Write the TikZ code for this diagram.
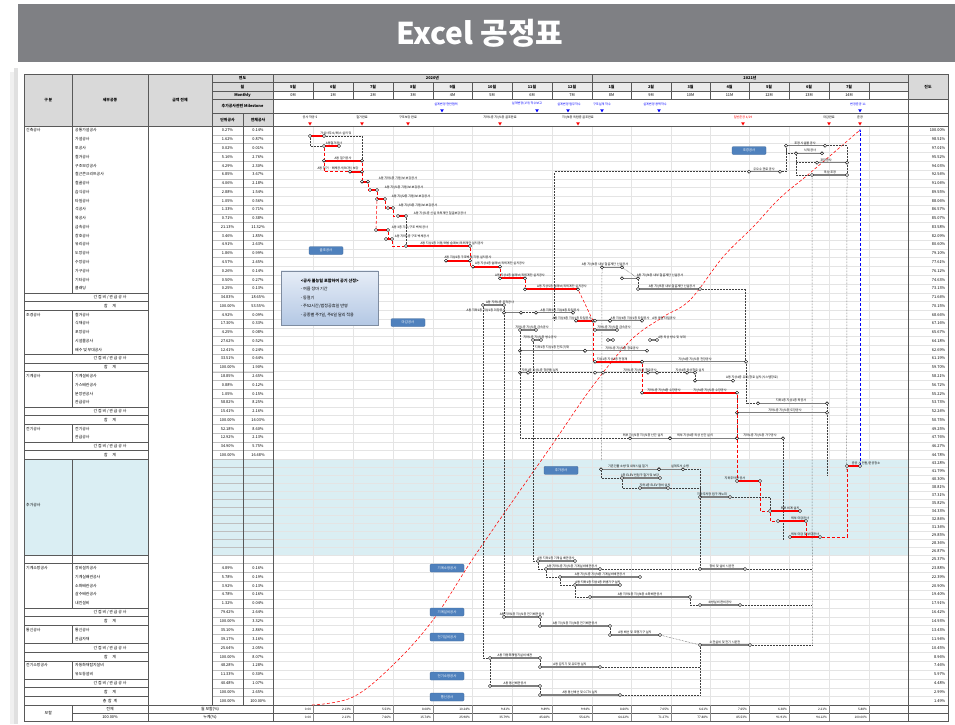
\documentclass[tikz,border=0pt]{standalone}
\usepackage{fontspec}
\setmainfont{Noto Sans CJK KR}
\usetikzlibrary{arrows.meta,shapes.geometric}
\definecolor{titlegray}{HTML}{7F8084}
\definecolor{hdrgray}{HTML}{D9D9D9}
\definecolor{gridgray}{HTML}{E4E4E4}
\definecolor{cellline}{HTML}{BFBFBF}
\definecolor{bandblue}{HTML}{DAEEF3}
\definecolor{tagblue}{HTML}{4F81BD}
\definecolor{barred}{HTML}{FF0000}
\definecolor{bargray}{HTML}{7F7F7F}
\definecolor{msblue}{HTML}{0000FF}
\definecolor{framegray}{HTML}{595959}
\definecolor{notetop}{HTML}{E6EDF7}
\definecolor{notebot}{HTML}{B4C8E4}
\newcommand{\gb}[7]{%
  \coordinate (#1s) at (#3,#5);
  \coordinate (#1e) at (#4,#5);
  \draw[#2] (#1s) -- (#1e);
  \node[ev] (#1l) at (#1s) {};
  \node[ev] (#1r) at (#1e) {};
  \node[lbl,anchor=south] (#1t) at (#6,#5-0.8) {#7};
}
\begin{document}
\begin{tikzpicture}[x=1pt,y=-1pt,
  declare function={ry(\k)=(\k<37.5)?(130.5+8.77*\k):((\k<49.5)?(463+8*(\k-38)):(559+8.875*(\k-50)));
                    rb(\k)=(\k<0.5)?126.3:((ry(\k-1)+ry(\k))/2);},
  ct/.style={font=\fontsize{3.9}{4}\selectfont,inner sep=0pt},
  hd/.style={font=\fontsize{3.9}{4}\selectfont\bfseries,inner sep=0pt},
  lbl/.style={font=\fontsize{3.1}{3.3}\selectfont,inner sep=0.3pt},
  ev/.style={circle,draw=black,fill=white,line width=0.45pt,minimum size=3.2pt,inner sep=0pt},
  crit/.style={draw=barred,line width=1.8pt},
  norm/.style={draw=bargray,line width=1.5pt},
  lk/.style={draw=black!75,densely dotted,line width=0.5pt},
  lkr/.style={draw=barred,densely dashed,line width=0.55pt},
  tline/.style={draw=framegray,line width=0.5pt},
  tag/.style={fill=tagblue,draw=tagblue!80!black,line width=0.3pt,rounded corners=1pt,text=white,
    font=\fontsize{3.4}{3.6}\selectfont,minimum width=34pt,minimum height=8pt,inner sep=0pt},
  tri/.style={regular polygon,regular polygon sides=3,shape border rotate=180,inner sep=0pt,minimum size=4.2pt},
]
\useasboundingbox (0,0) rectangle (955,724);
\fill[white] (0,0) rectangle (955,724);
% title bar
\fill[titlegray] (18,4) rectangle (955,62);
\node[font=\fontsize{30}{30}\selectfont\bfseries,text=white] (title) at (480,33) {Excel 공정표};
% panel shadow
\fill[black!12] (14,68) rectangle (18,724);
\fill[black!6] (10,72) rectangle (14,724);
% header fills
\fill[hdrgray] (24,74) rectangle (273,126.3);
\fill[hdrgray] (273,74) rectangle (908,82.3);
\fill[black!8] (273,82.3) rectangle (908,91);
\fill[hdrgray] (908,74) rectangle (948,99);
% blue band
\fill[bandblue] (24,{rb(38)}) rectangle (148,{rb(50)});
\fill[bandblue] (212,{rb(38)}) rectangle (908,{rb(50)});
% grid lines
\foreach \k in {1,...,66} {\draw[gridgray,line width=0.4pt] (212,{rb(\k)}) -- (948,{rb(\k)});}
\foreach \xx in {313,353,393,433,472,512,552,592,631,671,710,749,789,829,869}
  {\draw[gridgray,line width=0.4pt] (\xx,126.3) -- (\xx,705.4);}
\foreach \k in {1,...,66} {\draw[cellline,line width=0.35pt] (212,{rb(\k)}) -- (273,{rb(\k)});}
% header borders
\draw[tline] (212,82.3) -- (908,82.3) (212,91) -- (908,91) (212,99) -- (948,99) (212,113.3) -- (948,113.3)
  (24,126.3) -- (948,126.3) (243,113.3) -- (243,705.4);
\draw[tline] (592,74) -- (592,82.3);
\foreach \xx in {313,353,393,433,472,512,552,592,631,671,710,749,789,829,869}
  {\draw[tline] (\xx,82.3) -- (\xx,99);}
% header texts
\node[hd] (h1) at (48.3,100) {구 분};
\node[hd] (h2) at (110,100) {세부공종};
\node[hd] (h3) at (180,100) {금액 전체};
\node[hd] (h4) at (242.5,78.2) {연도};
\node[hd] (h5) at (242.5,86.6) {월};
\node[hd] (h6) at (242.5,95) {Monthly};
\node[hd] (h7) at (242.5,106.2) {추가공사관련 Milestone};
\node[hd] (h8) at (227.5,120) {단위공사};
\node[hd] (h9) at (258,120) {전체공사};
\node[hd] (y1) at (432.5,78.2) {2020년};
\node[hd] (y2) at (750,78.2) {2021년};
\node[hd] (jd) at (928,86.6) {진도};
\foreach \xa/\xb/\m/\mm [count=\i] in {273/313/5월/0M,313/353/6월/1M,353/393/7월/2M,393/433/8월/3M,433/472/9월/4M,
  472/512/10월/5M,512/552/11월/6M,552/592/12월/7M,592/631/1월/8M,631/671/2월/9M,671/710/3월/10M,710/749/4월/11M,
  749/789/5월/12M,789/829/6월/13M,829/869/7월/14M}
  {\node[hd] (mo\i) at ({(\xa+\xb)/2},86.6) {\m};
   \node[ct] (mm\i) at ({(\xa+\xb)/2},95) {\mm};}
% milestones (blue)
\foreach \tx/\lx/\t [count=\i] in {442/446/설계변경 현안협의,537/527/설계변경(1차) 착수보고,568/569/설계변경 업무착수,
  602/602/구조설계 착수,659/655/설계변경 용역착수,860/858/변경준공 11/1}
  {\node[lbl,text=msblue] (bm\i) at (\lx,104) {\t};
   \node[tri,fill=msblue] (bt\i) at (\tx,110.3) {};}
\foreach \tx/\t [count=\i] in {310/공사 착공 5/29,362/철거완료,408/구조보강 완료,500/지하1층~지상1층 골조완료,
  578/지상4층~옥탑층 골조완료,829/마감완료}
  {\node[lbl] (rm\i) at (\tx,117.6) {\t};
   \node[tri,fill=barred] (rt\i) at (\tx,123.4) {};}
\node[lbl,text=barred] (rm7) at (743,117.6) {일반준공 4/29};
\node[tri,fill=barred] (rt7) at (743,123.4) {};
\node[lbl] (rm8) at (860,117.6) {준공};
\node[tri,fill=barred] (rt8) at (860,123.4) {};
% left table: group labels
\foreach \k/\g in {0/건축공사,21/조경공사,28/기계공사,34/전기공사,51/기계소방공사,58/통신공사,62/전기소방공사}
  {\node[ct,anchor=west] (g\k) at (26,{ry(\k)}) {\g};}
\node[ct,anchor=west] (g38) at (26,505) {추가공사};
% detail rows
\foreach \k/\nm/\pa/\pb in {0/공통가설공사/0.27/0.14,1/가설공사/1.62/0.87,2/토공사/0.02/0.01,3/철거공사/5.16/2.76,
  4/구조보강공사/4.29/2.30,5/철근콘크리트공사/6.85/3.67,6/철골공사/4.06/2.18,7/습식공사/2.88/1.54,8/타일공사/1.05/0.56,
  9/석공사/1.33/0.71,10/목공사/0.71/0.38,11/금속공사/21.13/11.32,12/창호공사/3.46/1.85,13/유리공사/4.91/2.63,
  14/도장공사/1.86/0.99,15/수장공사/4.57/2.45,16/가구공사/0.26/0.14,17/기타공사/0.50/0.27,18/클래딩/0.25/0.13,
  21/철거공사/4.92/0.09,22/식재공사/17.30/0.33,23/포장공사/4.25/0.08,24/시설물공사/27.62/0.52,25/배수 및 부대공사/12.41/0.24,
  28/기계설비공사/18.85/2.65,29/가스배관공사/0.88/0.12,30/분장관공사/1.05/0.15,31/관급공사/58.82/8.25,
  34/전기공사/52.18/8.60,35/관급공사/12.92/2.13,
  51/장비설치공사/4.89/0.16,52/기계실배관공사/5.78/0.19,53/소화배관공사/3.92/0.13,54/살수배관공사/4.78/0.16,55/내진설비/1.32/0.04,
  58/통신공사/35.10/2.86,59/관급자재/39.17/3.16,62/자동화재탐지설비/48.28/1.28,63/유도등설비/11.33/0.30}
  {\node[ct,anchor=west] (nm\k) at (75,{ry(\k)}) {\nm};
   \node[ct] (pa\k) at (227.5,{ry(\k)}) {\pa\%};
   \node[ct] (pb\k) at (258,{ry(\k)}) {\pb\%};}
% indirect / sums
\foreach \k/\pa/\pb in {19/34.83/18.65,26/33.51/0.64,32/15.41/2.16,36/34.90/5.75,56/79.42/2.64,60/25.64/2.05,64/40.48/1.07}
  {\node[ct] (ic\k) at (110,{ry(\k)}) {간 접 비 / 관 급 공 사};
   \node[ct] (pa\k) at (227.5,{ry(\k)}) {\pa\%};
   \node[ct] (pb\k) at (258,{ry(\k)}) {\pb\%};}
\foreach \k/\pb in {20/53.55,27/1.90,33/14.03,37/16.48,57/3.32,61/8.07,65/2.65}
  {\node[ct] (sm\k) at (110,{ry(\k)}) {합 \quad 계};
   \node[ct] (pa\k) at (227.5,{ry(\k)}) {100.00\%};
   \node[ct] (pb\k) at (258,{ry(\k)}) {\pb\%};}
\node[ct] (sm66) at (110,{ry(66)}) {총 \ 합 \ 계};
\node[ct] (pa66) at (227.5,{ry(66)}) {100.00\%};
\node[ct] (pb66) at (258,{ry(66)}) {100.00\%};
% left table borders
\foreach \a/\b in {0/18,21/25,28/31,34/35,38/49,51/55,58/59,62/63}
  {\draw[tline] (24,{rb(\a)}) rectangle (148,{rb(\b+1)});
   \draw[tline] (72.7,{rb(\a)}) -- (72.7,{rb(\b+1)});}
\foreach \k in {19,20,26,27,32,33,36,37,50,56,57,60,61,64,65,66}
  {\draw[tline] (24,{rb(\k)}) rectangle (148,{rb(\k+1)});}
\draw[tline] (72.7,{rb(50)}) -- (72.7,{rb(51)});
% 진도 column
\foreach \k in {0,...,66}
  {\pgfmathsetmacro\v{100*(67-\k)/67}
   \node[ct,anchor=east] (jd\k) at (945.5,{ry(\k)}) {\pgfmathprintnumber[fixed,precision=2,fixed zerofill,assume math mode=true]{\v}\%};}
% bottom rows
\draw[tline] (24,705.4) -- (948,705.4) (72.7,713.3) -- (948,713.3);
\node[ct] (bh) at (48.3,713.3) {보할};
\node[ct] (bh1) at (110,709.3) {전체};
\node[ct] (bh2) at (110,717.3) {100.00\%};
\node[ct] (bh3) at (210,709.3) {월 보할(\%)};
\node[ct] (bh4) at (210,717.3) {누계(\%)};
\foreach \xb/\va/\vb [count=\i] in {313/0.00/0.00,353/2.13\%/2.13\%,393/5.53\%/7.66\%,433/8.08\%/15.74\%,472/10.24\%/25.98\%,
  512/9.81\%/35.79\%,552/9.89\%/45.68\%,592/9.94\%/55.62\%,631/8.60\%/64.22\%,671/7.05\%/71.27\%,710/6.61\%/77.88\%,
  749/7.65\%/85.53\%,789/6.38\%/91.91\%,829/2.21\%/94.12\%,869/5.88\%/100.00\%}
  {\node[lbl,anchor=east] (bv\i) at (\xb-1.5,709.3) {\va};
   \node[lbl,anchor=east] (bw\i) at (\xb-1.5,717.3) {\vb};}
% main vertical borders
\draw[tline] (72.7,74) -- (72.7,126.3) (148,74) -- (148,721.2) (212,74) -- (212,705.4) (273,74) -- (273,721.2)
  (908,74) -- (908,721.2) (148,705.4) -- (148,721.2) (72.7,705.4) -- (72.7,721.2);
\foreach \xx in {313,353,393,433,472,512,552,592,631,671,710,749,789,829,869}
  {\draw[tline,draw=framegray!70] (\xx,705.4) -- (\xx,721.2);}
\draw[draw=framegray,line width=0.9pt] (24,74) rectangle (948,721.2);
% ===== chart =====
% S-curve
\draw[barred,densely dashed,line width=0.55pt] plot[smooth,tension=0.6] coordinates {(312,705) (353,697) (393,665)
  (433,620) (472,560) (512,502) (552,445) (592,387) (631,340) (663,317) (690,300) (723,257) (753,227) (780,198) (810,173) (860,130)};
% blue completion line
\draw[msblue,densely dashed,line width=0.7pt,-{Stealth[length=2.5pt]}] (860,466) -- (860,129);
% tags
\node[tag] (t1) at (326,250.5) {골조공사};
\node[tag] (t2) at (408,322.5) {마감공사};
\node[tag] (t3) at (561,470.3) {추가공사};
\node[tag] (t4) at (749,150.5) {조경공사};
\node[tag] (t5) at (447,568) {기계소방공사};
\node[tag] (t6) at (447,612) {기계설비공사};
\node[tag] (t7) at (447,637) {전기설비공사};
\node[tag] (t8) at (447,676) {전기소방공사};
\node[tag] (t9) at (447,697) {통신공사};
% note box
\node[draw=notebot!70!black,line width=0.4pt,top color=notetop,bottom color=notebot,anchor=north west,
  minimum width=97pt,minimum height=54pt,align=left,inner sep=3pt,
  font=\fontsize{4.1}{8.4}\selectfont] (note) at (281,270.7)
  {\textbf{<공사 불능일 포함하여 공기 산정>}\\- 여름 장마 기간\\- 동절기\\- 주52시간/법정공휴일 반영\\- 공종별 주7일, 주6일 달리 적용};
% critical path
\gb{a1}{crit}{310}{324}{136}{336}{가설사무소/헤스 설치 및}
\gb{a2}{crit}{324}{339}{146}{334}{A동철거공사}
\gb{a3}{crit}{324}{362}{160.7}{343}{A동 철거공사}
\gb{a4}{crit}{350}{362}{171.7}{338}{A동 철거 · 해체공사(RC동) 보강}
\gb{a5}{crit}{362}{368}{181.7}{398}{A동 지하1층 기둥/보 보강공사}
\gb{a6}{crit}{370}{377}{190}{404}{A동 지상1층 기둥/보 보강공사}
\gb{a7}{crit}{377}{385}{199}{411}{A동 지상2층 기둥/보 보강공사}
\gb{a8}{crit}{388}{393}{208}{418}{A동 지상3층 기둥/보 보강공사}
\gb{a9}{crit}{398}{406}{216}{440}{A동 지상1층 신설 옥외계단 철골보강공사}
\gb{a10}{crit}{376}{388}{230}{410}{A동 3층 기초/구조 벽체 공사}
\gb{a11}{crit}{386}{392}{239}{412}{A동 지하1층 구조 벽체공사}
\gb{a12}{crit}{406}{470}{246}{452}{A동 지상1층 이동/에방 슬래브/옥외계단 설치공사}
\gb{a13}{crit}{446}{470}{260.7}{468}{A동 지상2층 구조벽체/기둥 설치공사}
\gb{a14}{crit}{473}{500}{266.7}{500}{A동 지상4층 슬래브/옥외계단 설치공사}
\gb{a15}{crit}{500}{525}{278.3}{520}{A동 지상4층 슬래브/옥외계단 설치공사}
\gb{a16}{crit}{525}{578}{289.3}{562}{A동 지상5층 슬래브/옥외계단 설치공사}
\gb{a17}{crit}{576}{593}{320.7}{572}{A동 지상4층~지상1층 타일공사}
\gb{a18}{crit}{595}{642}{361.7}{612}{지상1층~지상1층 천정재}
\gb{a19}{crit}{642}{737}{392.7}{664}{지하1층~지상4층 수장공사}
\node[lbl,anchor=south] (a19u) at (710,391.9) {지상4층~지상1층 수장공사};
\draw[lkr] (a2l) -- (a3l);
\draw[lkr] (a3l) |- (a4l);
\draw[lkr] (a3r) -- (a5l);
\draw[lkr] (a5r) |- (a6l);
\draw[lkr] (a6r) |- (a7l);
\draw[lkr] (a7r) |- (a8l);
\draw[lkr] (a8r) |- (a9l);
\draw[lkr] (a7l) -- (a10l);
\draw[lkr] (a10r) |- (a11l);
\draw[lkr] (a11r) |- (a12l);
\draw[lk] (a9r) -- (a12l);
\draw[lk] (a1l) |- (a2l);
\draw[lk] (a1r) -| (a3r);
\draw[lkr] (a12r) -- (a13r);
\draw[lkr] (a13r) |- (a14l);
\draw[lkr] (a14r) -- (a15l);
\draw[lkr] (a15r) -- (a16l);
\draw[lkr] (a16r) -- (a17e);
\draw[lkr] (a17r) |- (a18l);
\draw[lkr] (a18r) -- (a19l);
% landscape
\gb{g4}{norm}{749}{780}{171.7}{764}{우오수 관로 공사}
\gb{g5}{norm}{786}{825}{145.7}{805}{조경 시설물 공사}
\gb{g6}{norm}{796}{822}{153.3}{810}{식재 공사}
\gb{g7}{norm}{817}{847}{162.7}{826}{포장공사}
\gb{g8}{norm}{812}{847}{175}{830}{옥상 조경}
\draw[lk] (554.7,320) |- (g4l);
\draw[lk] (g4r) -| (g5l);
\draw[lk] (g5l) |- (g6l);
\draw[lk] (g6l) |- (g7l);
\draw[lk] (g6l) |- (g8l);
\draw[lk] (g5r) -| (g7r);
\draw[lk] (g7r) -- (g8r);
\draw[lk] (g8r) -- (846.7,472);
\draw[lk] (g8l) -- (812.3,645);
% steel stairs
\gb{g1}{norm}{602}{622}{267.3}{605}{A동 지상4층 내부 철골계단 신설공사}
\gb{g2}{norm}{622}{638}{278.3}{660}{A동 지상4층 내부 철골계단 신설공사}
\gb{g3}{norm}{638}{700}{289}{672}{A동 지상5층 내부 철골계단 신설공사}
\draw[lk] (g1r) -- (g2r);
\draw[lk] (g2r) -- (g3l);
\draw[lk] (g3r) -| (745.7,361.7);
\draw[lk] (g1l) -- (601.7,460);
% finishing
\gb{m1}{norm}{483}{504}{305}{500}{A동 지하1층 조적공사}
\gb{m2}{norm}{504}{521}{312.7}{486}{A동 지하1층~지상1층 미장공사}
\gb{m3}{norm}{536}{573}{312.7}{560}{A동 지하1층~지상4층 타일공사}
\gb{m4}{norm}{595}{610}{320.7}{630}{A동 지상4층~지상1층 타일공사}
\gb{m4b}{norm}{610}{642}{320.7}{664}{A동 옥탑 타일공사}
\gb{m5}{norm}{520}{536}{330}{532}{지하1층~지상1층 금속공사}
\gb{m6}{norm}{595}{617}{330}{614}{지하1층~지상1층 금속공사}
\gb{m7}{norm}{533}{541}{340}{540}{지하1층~지상1층 방수공사}
\gb{m8}{norm}{608}{613}{340}{600}{}
\gb{m9}{norm}{650}{657}{340}{672}{A동 옥상 방수 및 부대}
\gb{m10}{norm}{520}{585}{350.7}{552}{지하1층~지상1층 전도(?)재}
\gb{m11}{norm}{585}{647}{350.7}{622}{지하1층~지상1층 창호공사}
\gb{a18b}{norm}{642}{746}{361.7}{695}{지상4층~지상1층 천장공사}
\gb{m12}{norm}{520}{528}{372.7}{540}{지하1층~지상1층 창문틀 설치}
\gb{m13}{norm}{595}{603}{372.7}{598}{}
\gb{m14}{norm}{648}{657}{372.7}{640}{지하1층~지상1층 창호공사}
\gb{m15}{norm}{687}{695}{372.7}{690}{지상4층~옥상창호 설치}
\gb{m16}{norm}{695}{733}{380.7}{752}{A동 지상4층 유리/창호 설치(시스템창호)}
\gb{m17}{norm}{758}{827}{403.3}{791}{지하1층~지상1층 목공사}
\gb{m18}{norm}{737}{827}{412.7}{785}{지하1층~지상1층 도장공사}
\gb{m19}{norm}{630}{670}{438.3}{643}{외부 지상1층~지상1층 난간 설치}
\gb{m20}{norm}{670}{737}{438.3}{695}{외부 지상4층~옥상 난간 설치}
\gb{m21}{norm}{737}{783}{438.3}{760}{지하1층~지상1층 가구공사}
\draw[lk] (m1r) -- (m2l);
\draw[lk] (m2r) -- (m3l);
\draw[lk] (m5l) |- (m19l);
\draw[lk] (m10l) |- (m12l);
\draw[lk] (m12r) -- (m13l);
\draw[lk] (m13r) -- (m14l);
\draw[lk] (m14r) -- (m15l);
\draw[lk] (m15r) |- (m16l);
\draw[lk] (a18br) |- (m17l);
\draw[lk] (m17r) -- (m18r);
\draw[lk] (m18r) -- (827,475);
\draw[lk] (m19r) -- (m20l);
\draw[lk] (m20r) -- (m21l);
\draw[lk] (m21r) -- (783,445) -- (783,540);
\draw[lk] (a19r) -- (m21l);
\draw[lkr] (a19r) -- (737,481);
% additional work (blue band)
\gb{b1}{norm}{601}{659}{469.3}{628}{기존건물 소방 및 내부시설 철거}
\gb{b2}{norm}{659}{683}{469.3}{680}{설계도서 수령}
\gb{n3}{norm}{622}{660}{478}{640}{1층 ELEV 인입구 철거 및 보강}
\gb{n4}{norm}{640}{668}{488}{655}{지하1층 ELEV 정비 설치}
\gb{n5}{norm}{700}{730}{497}{712}{지하주차장 입구 캐노피}
\gb{c1}{crit}{737}{760}{481}{735}{지하주차장 공사}
\gb{c2}{crit}{770}{800}{511}{790}{외부 비계 설치}
\gb{c3}{crit}{778}{806}{521}{800}{외부 마감공사}
\gb{c4}{crit}{790}{820}{537}{805}{외부 마감 및 부대공사}
\gb{z1}{crit}{847}{860}{466}{866}{준공 시 민원/준공청소}
\draw[lkr] (c1r) |- (c2l);
\draw[lkr] (c2l) |- (c3l);
\draw[lkr] (c3r) |- (c4l);
\draw[lkr] (c4r) -| (z1l);
\draw[lk] (b1l) |- (n3l);
\draw[lk] (n3l) |- (n4l);
\draw[lk] (n4r) -| (n5l);
\draw[lk] (n5r) -| (c2l);
% mechanical / electrical / communication
\gb{L1}{norm}{538}{575}{561}{556}{A동 지하1층 기계실 배관공사}
\gb{L2}{norm}{546}{600}{569}{572}{A동 지하1층~지상1층 기계설비배관공사}
\gb{L3}{norm}{560}{640}{577}{600}{A동 지상1층~지상4층 기계설비배관공사}
\gb{L4}{norm}{575}{620}{585}{598}{A동 지하1층~지상1층 위생기구 설치}
\gb{L5}{norm}{590}{690}{597}{640}{A동 지하1층~지상4층 소화배관공사}
\gb{L6}{norm}{700}{745}{569}{722}{장비 및 설비 시운전}
\gb{L7}{norm}{700}{740}{605}{720}{소방설비 완비공사}
\gb{L8}{norm}{504}{540}{617}{522}{A동 지하1층~지상1층 전기배관공사}
\gb{L9}{norm}{540}{610}{626}{575}{A동 지상1층~지상4층 전기배관공사}
\gb{L10}{norm}{610}{660}{635}{635}{A동 배선 및 조명기구 설치}
\gb{L11}{norm}{700}{750}{645}{725}{수전설비 및 전기 시운전}
\gb{L12}{norm}{490}{540}{658}{515}{A동 자동화재탐지설비 배관}
\gb{L13}{norm}{540}{600}{667}{570}{A동 감지기 및 유도등 설치}
\gb{L14}{norm}{490}{540}{686}{515}{A동 통신배관공사}
\gb{L15}{norm}{540}{620}{695}{580}{A동 통신배선 및 CCTV 설치}
\draw[lk] (m1l) |- (L12l);
\draw[lk] (L12l) -- (L14l);
\draw[lk] (m2l) -- (L8l);
\draw[lk] (m7l) |- (L1l);
\draw[lk] (L1l) |- (L2l);
\draw[lk] (L2l) |- (L3l);
\draw[lk] (L3l) |- (L4l);
\draw[lk] (L4l) |- (L5l);
\draw[lk] (L2r) -- (L6l);
\draw[lk] (L5r) |- (L7l);
\draw[lk] (L6r) -- (812.3,569);
\draw[lk] (L7r) -- (812.3,605);
\draw[lk] (L11r) -- (812.3,645);
\draw[lk] (L8r) -- (L9l);
\draw[lk] (L9r) -- (L10l);
\draw[lk] (L10r) -- (L11l);
\draw[lk] (L12r) -- (L13l);
\draw[lk] (L14r) -- (L15l);
\draw[lk] (L15r) -| (L11l);
\draw[lk] (L13r) -- (700,667);
\draw[lk] (b2r) -| (L6l);
\end{tikzpicture}
\end{document}
